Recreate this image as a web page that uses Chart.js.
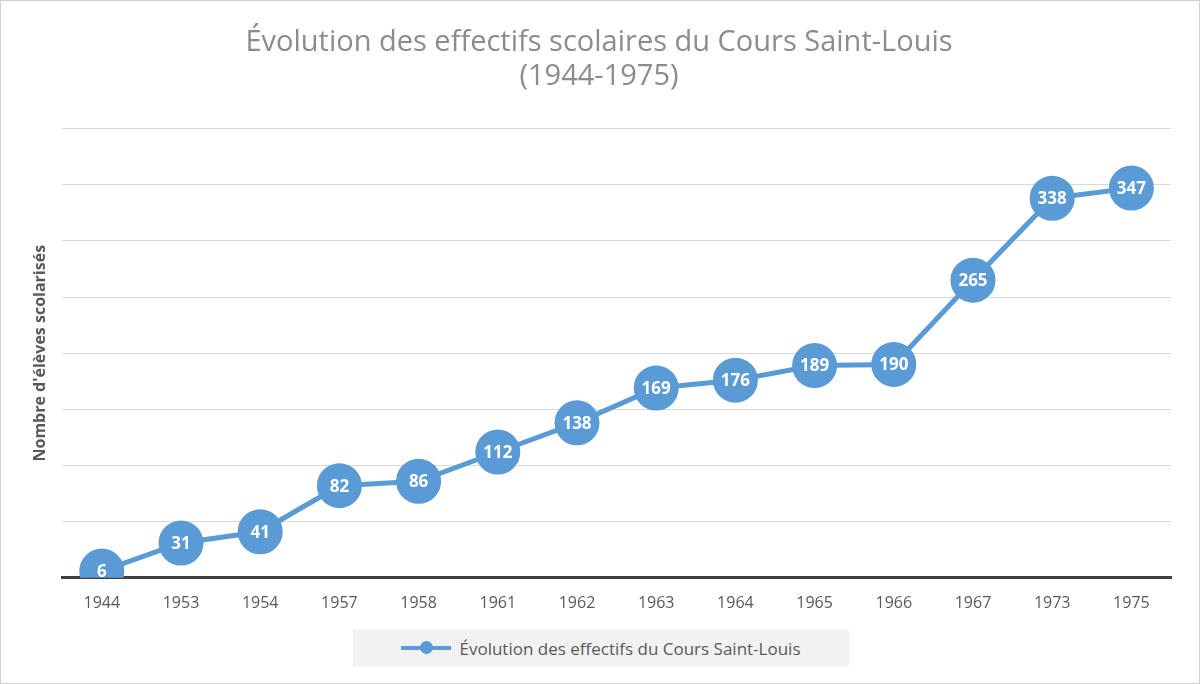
<!DOCTYPE html>
<html><head><meta charset="utf-8">
<script src="https://cdn.jsdelivr.net/npm/chart.js@4"></script>
<style>
html,body{margin:0;padding:0;background:#fff;}
#wrap{position:relative;width:1198px;height:682px;border:1px solid #d0d0d0;}
#legend{position:absolute;left:352px;top:628px;width:496px;height:38px;background:#f2f2f2;
  font:17px "Open Sans",sans-serif;color:#595959;display:flex;align-items:center;justify-content:center;}
#legend .mk{position:relative;width:50px;height:4px;background:#5b9bd5;margin-right:8px;}
#legend .mk:after{content:"";position:absolute;left:19px;top:-5px;width:13px;height:13px;border-radius:50%;background:#5b9bd5;}
</style></head><body>
<div id="wrap"><canvas id="c" width="1198" height="682"></canvas>
<div id="legend"><span class="mk"></span>Évolution des effectifs du Cours Saint-Louis</div></div>
<script>
const years = ['1944','1953','1954','1957','1958','1961','1962','1963','1964','1965','1966','1967','1973','1975'];
const effectifs = [6,31,41,82,86,112,138,169,176,189,190,265,338,347];
const blue = '#5b9bd5';

const labelPlugin = {
  id:'pointLabels',
  afterDatasetsDraw(chart){
    const ctx = chart.ctx, meta = chart.getDatasetMeta(0);
    ctx.save();
    ctx.fillStyle = '#fff';
    ctx.font = 'bold 17px "Open Sans", sans-serif';
    ctx.textAlign = 'center'; ctx.textBaseline = 'middle';
    meta.data.forEach((p,i)=>ctx.fillText(effectifs[i], p.x, p.y+1));
    ctx.restore();
  }
};

new Chart(document.getElementById('c'), {
  type:'line',
  data:{ labels:years, datasets:[{label:'Évolution des effectifs du Cours Saint-Louis', data:effectifs,
    borderColor:blue, backgroundColor:blue, borderWidth:5, pointRadius:20, pointHoverRadius:20,
    pointBackgroundColor:blue, pointBorderColor:blue, tension:0 }] },
  options:{
    responsive:false, animation:false,
    layout:{padding:{left:26,right:28,top:0,bottom:62}},
    plugins:{
      legend:{display:false}, tooltip:{enabled:false},
      title:{display:true, text:['Évolution des effectifs scolaires du Cours Saint-Louis','(1944-1975)'],
        color:'#8c8c8c', font:{family:'"Open Sans", sans-serif', size:29, weight:'normal'}, padding:{top:24,bottom:34}, lineHeight:1.5}
    },
    scales:{
      x:{ offset:true, grid:{display:false}, border:{color:'#404040', width:3},
        ticks:{color:'#595959', font:{family:'"Open Sans", sans-serif', size:16}, padding:8} },
      y:{ min:0, max:400, ticks:{stepSize:50, display:false}, border:{display:false},
        grid:{color:'#d9d9d9', lineWidth:1, drawTicks:false},
        title:{display:true, text:"Nombre d'élèves scolarisés", color:'#595959',
          font:{family:'"Open Sans", sans-serif', size:16, weight:'bold'}, padding:{bottom:12}} }
    }
  },
  plugins:[labelPlugin]
});
</script></body></html>
